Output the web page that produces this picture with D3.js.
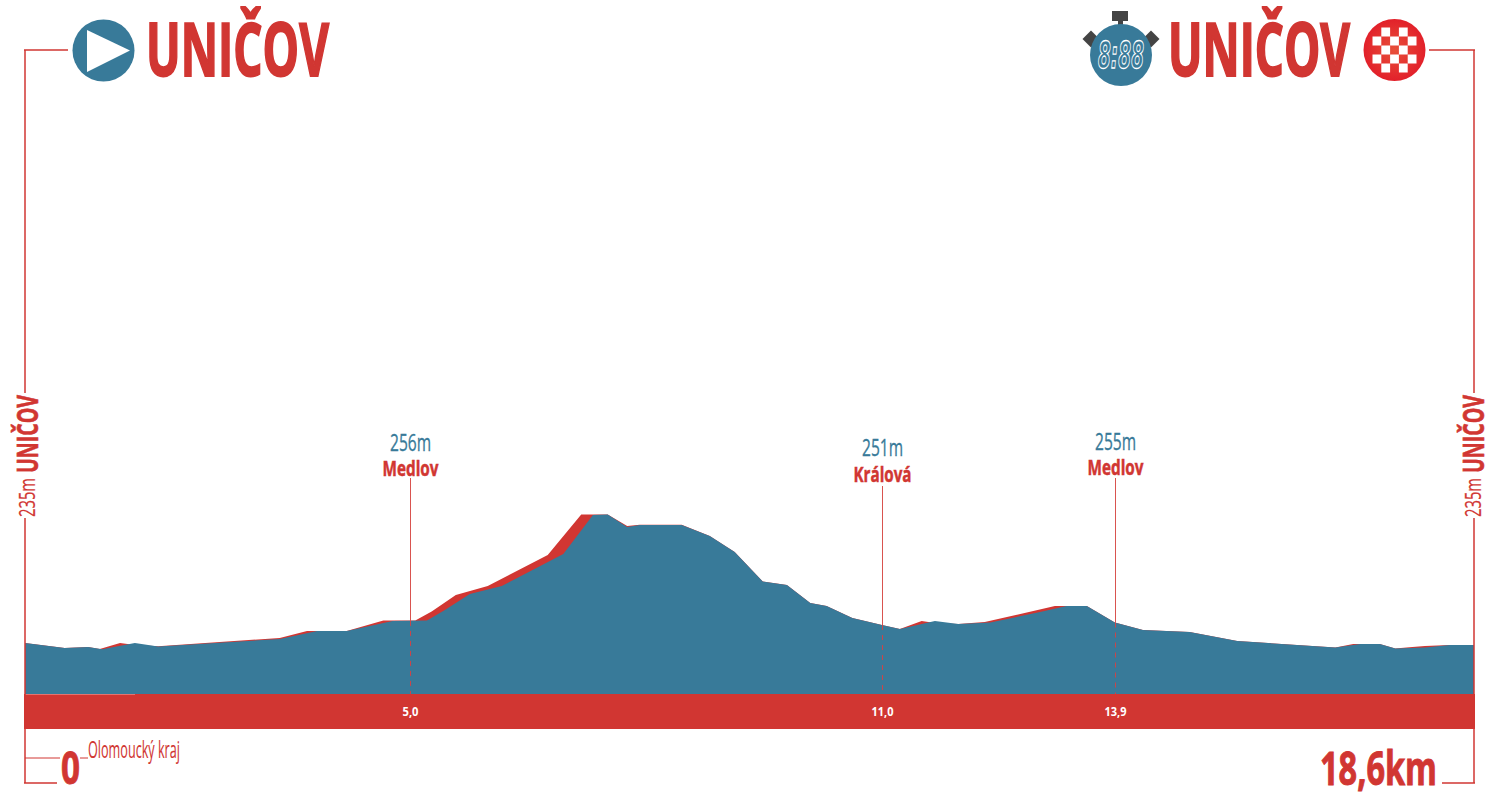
<!DOCTYPE html>
<html>
<head>
<meta charset="utf-8">
<script src="https://cdn.jsdelivr.net/npm/d3@7"></script>
<style>
body { margin: 0; background: #fff; }
text { font-family: "Open Sans", sans-serif; }
</style>
</head>
<body>
<div id="container"></div>
<script>
const red = "#D13632"
const blue = "#387A99"
const dark = "#444"

// profile: km, metres
const blueKm = [0, 0.51, 0.81, 0.99, 1.41, 1.71, 3.27, 3.75, 4.13, 4.72, 5.16, 5.39, 5.71, 6.12, 6.91, 7.29, 7.48, 7.73, 7.89, 8.43, 8.79, 9.11, 9.47, 9.78, 10.08, 10.29, 10.62, 11.0, 11.23, 11.68, 11.98, 12.39, 13.03, 13.37, 13.63, 13.99, 14.35, 14.95, 15.56, 16.82, 17.14, 17.39, 17.59, 17.97, 18.29, 18.6]
const blueEle = [235, 230.2, 231.2, 229, 235, 231.7, 238.8, 246.4, 246.4, 256, 256.4, 266.4, 281.7, 289.3, 319.8, 356.9, 357.4, 345.5, 347.4, 347.4, 336.9, 321.7, 293.6, 290.2, 273.1, 270.2, 258.8, 252.1, 248.3, 256, 253.1, 254.5, 264.5, 270.2, 270.2, 254.5, 247.4, 245.5, 236.9, 230.7, 234, 234, 229.8, 230.7, 233.1, 233.1]

const redKm = [0, 0.51, 0.81, 0.96, 1.22, 1.41, 1.71, 3.27, 3.62, 4.13, 4.6, 5.01, 5.22, 5.53, 5.94, 6.71, 7.14, 7.48, 7.73, 7.89, 8.43, 8.79, 9.11, 9.47, 9.78, 10.08, 10.29, 10.62, 11.0, 11.23, 11.51, 11.68, 11.98, 12.32, 13.22, 13.63, 13.99, 14.35, 14.95, 15.56, 16.82, 17.05, 17.39, 17.59, 17.77, 17.97, 18.29, 18.6]
const redEle = [235, 230.2, 231.2, 229.3, 235, 233.1, 231.9, 239.8, 246.4, 246.4, 256.4, 256.4, 265, 280.7, 289.3, 318.8, 357.4, 357.4, 346.4, 347.6, 347.6, 336.9, 321.7, 293.6, 290.2, 273.1, 270.2, 258.8, 252.1, 248.3, 256, 254, 253.1, 255, 270.2, 270.2, 254.5, 247.4, 245.5, 236.9, 230.7, 234, 234, 229.8, 230.9, 232.1, 233.1, 233.1]

// waypoints
const markerKm = [4.94, 11.0, 13.99]
const markerDist = ["5,0", "11,0", "13,9"]
const markerHeight = ["256m", "251m", "255m"]
const markerName = ["Medlov", "Králová", "Medlov"]
const markerEle = [256, 252.1, 254.5]

const startName = "UNIČOV"
const finishName = "UNIČOV"
const startHeight = "235m"
const region = "Olomoucký kraj"
const totalLabel = "18,6km"

const width = 1500
const height = 800

const svg = d3.select("#container")
    .append("svg")
    .attr("width", width)
    .attr("height", height)
    .style("display", "block")

const x = d3.scaleLinear().domain([0, 18.6]).range([25, 1474])
const y = d3.scaleLinear().domain([187.4, 235]).range([693, 643])

const defs = svg.append("defs")
const grad = defs.append("radialGradient").attr("id", "flagRed")
grad.append("stop").attr("offset", "0%").attr("stop-color", "#E8503A")
grad.append("stop").attr("offset", "100%").attr("stop-color", "#E2202A")

// helper, the font is squeezed to the measured width, heavy adds a stroke
function label(g, t, x0, base, w, size, fill, bold, heavy) {
    return g.append("text")
        .text(t)
        .attr("x", x0)
        .attr("y", base)
        .attr("textLength", w)
        .attr("lengthAdjust", "spacingAndGlyphs")
        .attr("font-size", size)
        .attr("font-weight", bold ? 700 : 400)
        .attr("fill", fill)
        .attr("stroke", heavy ? fill : "none")
        .attr("stroke-width", heavy || 0)
}

function rule(x1, y1, x2, y2, sw) {
    svg.append("line")
        .attr("x1", x1).attr("y1", y1).attr("x2", x2).attr("y2", y2)
        .attr("stroke", red)
        .attr("stroke-width", sw || 1.5)
}

// profile
const area = (km, ele) => d3.area()
    .x(i => x(km[i]))
    .y0(694)
    .y1(i => y(ele[i]))

svg.append("path")
    .attr("d", area(redKm, redEle)(d3.range(redKm.length)))
    .attr("fill", red)
svg.append("path")
    .attr("d", area(blueKm, blueEle)(d3.range(blueKm.length)))
    .attr("fill", blue)

// red distance bar
svg.append("rect")
    .attr("x", 24).attr("y", 694)
    .attr("width", 1451).attr("height", 35)
    .attr("fill", red)
svg.append("line")
    .attr("x1", 25).attr("x2", 135).attr("y1", 694.5).attr("y2", 694.5)
    .attr("stroke", "#E4736F").attr("stroke-width", 1)

// frame
rule(25, 50, 25, 393)
rule(25, 518, 25, 783)
rule(24, 50, 68, 50)
rule(24, 783, 57, 783)
rule(25, 758, 60, 758, 1)
rule(80, 758, 88, 758, 1)
rule(1474, 50, 1474, 393)
rule(1474, 518, 1474, 783)
rule(1429, 50, 1475, 50)
rule(1442, 783, 1475, 783)

// waypoints
const labelTop = [478, 486, 478]
const nameBase = [476, 482, 475]
const heightBase = [451, 456, 450]
const nameW = [56, 58, 56]
markerKm.forEach((km, i) => {
    const px = Math.round(x(km)) + 0.5
    svg.append("line")
        .attr("x1", px).attr("x2", px)
        .attr("y1", labelTop[i]).attr("y2", y(markerEle[i]))
        .attr("stroke", "#D9534F").attr("stroke-width", 1)
    svg.append("line")
        .attr("x1", px).attr("x2", px)
        .attr("y1", y(markerEle[i])).attr("y2", 694)
        .attr("stroke", "#C9454A").attr("stroke-width", 1)
        .attr("stroke-dasharray", "5,5")
    label(svg, markerHeight[i], px - 20.5, heightBase[i], 41, 23, blue, false, 0.3)
    label(svg, markerName[i], px - nameW[i] / 2, nameBase[i], nameW[i], 22, red, true, 0.5)
    const w = markerDist[i].length > 3 ? 22 : 16
    label(svg, markerDist[i], px - w / 2, 716, w, 13, "#fff", true)
})

// headings
label(svg, startName, 146, 76, 183, 73, red, true, 2)
label(svg, finishName, 1168, 76, 182, 73, red, true, 2)

// start icon
svg.append("circle").attr("cx", 103.5).attr("cy", 50.5).attr("r", 31).attr("fill", blue)
svg.append("path").attr("d", "M87,30L130,50.5L87,72Z").attr("fill", "#fff")

// stopwatch icon
const watch = svg.append("g")
watch.append("rect").attr("x", 1112).attr("y", 11).attr("width", 16).attr("height", 10).attr("fill", dark)
watch.append("rect").attr("x", 1118).attr("y", 20).attr("width", 5).attr("height", 7).attr("fill", dark)
watch.append("rect").attr("x", -6).attr("y", -6).attr("width", 12).attr("height", 12)
    .attr("fill", dark).attr("transform", "translate(1091,39) rotate(45)")
watch.append("rect").attr("x", -6).attr("y", -6).attr("width", 12).attr("height", 12)
    .attr("fill", dark).attr("transform", "translate(1151,39) rotate(45)")
watch.append("circle").attr("cx", 1121).attr("cy", 55).attr("r", 31).attr("fill", blue)
label(watch, "8:88", 1098, 68, 46, 37, "none", true)
    .style("font-family", "DejaVu Sans")
    .style("font-style", "italic")
    .attr("stroke", "#fff")
    .attr("stroke-width", 1.3)

// finish flag icon
const flagCells = [[0, 1], [0, 3], [1, 0], [1, 2], [1, 4], [2, 1], [2, 3], [3, 0], [3, 2], [3, 4], [4, 1], [4, 3]]
const flag = svg.append("g")
flag.append("circle").attr("cx", 1394.5).attr("cy", 50).attr("r", 31).attr("fill", "url(#flagRed)")
flag.selectAll("rect")
    .data(flagCells)
    .enter()
    .append("rect")
    .attr("x", d => 1372.5 + d[1] * 8.8)
    .attr("y", d => 27.5 + d[0] * 9)
    .attr("width", 8.8)
    .attr("height", 9)
    .attr("fill", "#fff")

// rotated start / finish labels
const sides = [[38, 35], [1484, 1481]]
sides.forEach(s => {
    label(svg, startName, 0, 0, 78, 28, red, true, 0.6)
        .attr("transform", "translate(" + s[0] + ",473) rotate(-90)")
    label(svg, startHeight, 0, 0, 39, 22, red, false, 0.2)
        .attr("transform", "translate(" + s[1] + ",517) rotate(-90)")
})

// bottom labels
label(svg, "0", 61, 784, 19, 45, red, true, 0.8)
label(svg, region, 88, 758, 92, 23, red, false, 0.1)
label(svg, totalLabel, 1320, 785, 117, 46, red, true, 1)
</script>
</body>
</html>
